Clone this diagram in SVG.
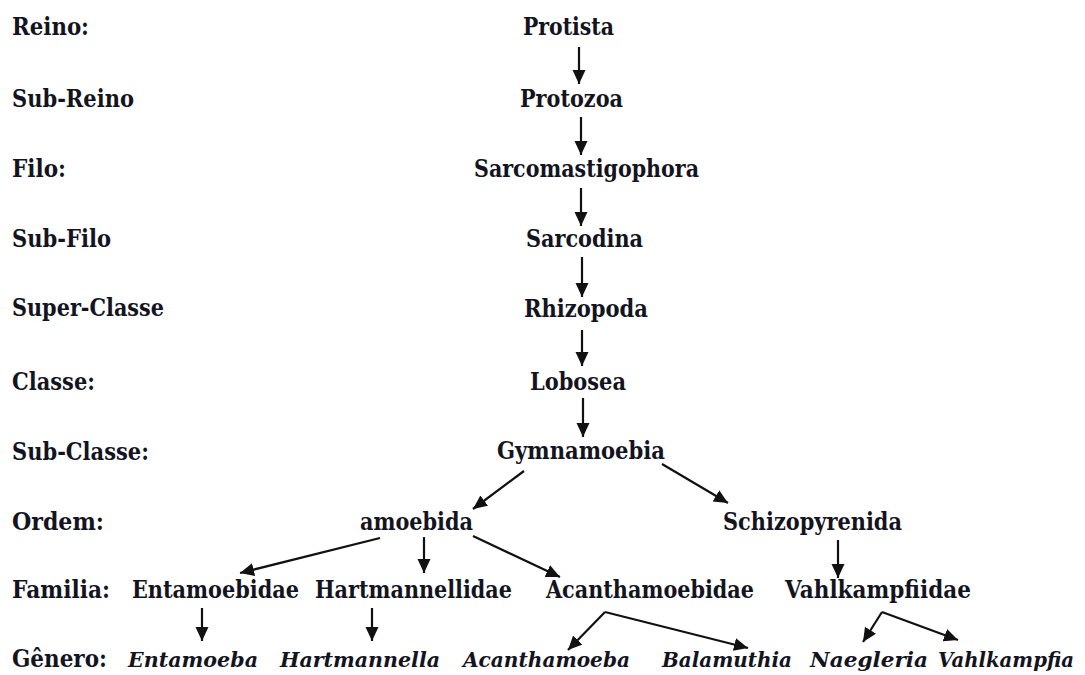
<svg xmlns="http://www.w3.org/2000/svg" width="1085" height="675" viewBox="0 0 1085 675">
<style>
text{font-family:"DejaVu Serif","Liberation Serif",serif;font-size:25px;font-weight:bold;fill:#14141f}
.it{font-style:italic;font-size:21px}
.c line{stroke:#111;stroke-width:2.2;marker-end:url(#ah)}
</style>
<defs>
<marker id="ah" markerUnits="userSpaceOnUse" markerWidth="16" markerHeight="14" refX="14" refY="6.5" orient="auto">
<path d="M0,0 L14,6.5 L0,13 Z" fill="#111"/>
</marker>
</defs>
<rect width="1085" height="675" fill="#fff"/>
<g id="ranks">
<text x="12" y="35" textLength="77" lengthAdjust="spacingAndGlyphs">Reino:</text>
<text x="12" y="107" textLength="122" lengthAdjust="spacingAndGlyphs">Sub-Reino</text>
<text x="12" y="177" textLength="54" lengthAdjust="spacingAndGlyphs">Filo:</text>
<text x="12" y="247" textLength="99" lengthAdjust="spacingAndGlyphs">Sub-Filo</text>
<text x="12" y="316" textLength="152" lengthAdjust="spacingAndGlyphs">Super-Classe</text>
<text x="12" y="390" textLength="83" lengthAdjust="spacingAndGlyphs">Classe:</text>
<text x="12" y="460" textLength="137" lengthAdjust="spacingAndGlyphs">Sub-Classe:</text>
<text x="12" y="530" textLength="92" lengthAdjust="spacingAndGlyphs">Ordem:</text>
<text x="12" y="598" textLength="98" lengthAdjust="spacingAndGlyphs">Familia:</text>
<text x="12" y="667" textLength="95" lengthAdjust="spacingAndGlyphs">Gênero:</text>
</g>
<g id="protista"><text x="523" y="35" textLength="91" lengthAdjust="spacingAndGlyphs">Protista</text></g>
<g id="protozoa"><text x="520" y="107" textLength="103" lengthAdjust="spacingAndGlyphs">Protozoa</text></g>
<g id="sarcomastigophora"><text x="474" y="177" textLength="225" lengthAdjust="spacingAndGlyphs">Sarcomastigophora</text></g>
<g id="sarcodina"><text x="526" y="247" textLength="117" lengthAdjust="spacingAndGlyphs">Sarcodina</text></g>
<g id="rhizopoda"><text x="524" y="317" textLength="124" lengthAdjust="spacingAndGlyphs">Rhizopoda</text></g>
<g id="lobosea"><text x="530" y="390" textLength="96" lengthAdjust="spacingAndGlyphs">Lobosea</text></g>
<g id="gymnamoebia"><text x="497" y="459" textLength="168" lengthAdjust="spacingAndGlyphs">Gymnamoebia</text></g>
<g id="amoebida"><text x="360" y="530" textLength="113" lengthAdjust="spacingAndGlyphs">amoebida</text></g>
<g id="schizopyrenida"><text x="723" y="530" textLength="179" lengthAdjust="spacingAndGlyphs">Schizopyrenida</text></g>
<g id="entamoebidae"><text x="132" y="598" textLength="167" lengthAdjust="spacingAndGlyphs">Entamoebidae</text></g>
<g id="hartmannellidae"><text x="315" y="598" textLength="197" lengthAdjust="spacingAndGlyphs">Hartmannellidae</text></g>
<g id="acanthamoebidae"><text x="546" y="598" textLength="208" lengthAdjust="spacingAndGlyphs">Acanthamoebidae</text></g>
<g id="vahlkampfiidae"><text x="785" y="598" textLength="186" lengthAdjust="spacingAndGlyphs">Vahlkampfiidae</text></g>
<g id="entamoeba"><text class="it" x="128" y="667" textLength="130" lengthAdjust="spacingAndGlyphs">Entamoeba</text></g>
<g id="hartmannella"><text class="it" x="280" y="667" textLength="160" lengthAdjust="spacingAndGlyphs">Hartmannella</text></g>
<g id="acanthamoeba"><text class="it" x="463" y="667" textLength="167" lengthAdjust="spacingAndGlyphs">Acanthamoeba</text></g>
<g id="balamuthia"><text class="it" x="662" y="667" textLength="130" lengthAdjust="spacingAndGlyphs">Balamuthia</text></g>
<g id="naegleria"><text class="it" x="810" y="667" textLength="118" lengthAdjust="spacingAndGlyphs">Naegleria</text></g>
<g id="vahlkampfia"><text class="it" x="938" y="667" textLength="136" lengthAdjust="spacingAndGlyphs">Vahlkampfia</text></g>
<g id="connectors" class="c">
<line x1="579" y1="47" x2="579" y2="84"/>
<line x1="581" y1="117" x2="581" y2="155"/>
<line x1="581" y1="188" x2="581" y2="226"/>
<line x1="582" y1="257" x2="582" y2="297"/>
<line x1="582" y1="330" x2="582" y2="366"/>
<line x1="583" y1="398" x2="583" y2="437"/>
<line x1="524" y1="471" x2="473" y2="509"/>
<line x1="662" y1="464" x2="728" y2="503"/>
<line x1="380" y1="538" x2="240" y2="573"/>
<line x1="424" y1="537" x2="424" y2="573"/>
<line x1="473" y1="536" x2="560" y2="577"/>
<line x1="838" y1="540" x2="838" y2="578"/>
<line x1="202" y1="608" x2="202" y2="641"/>
<line x1="372" y1="608" x2="372" y2="641"/>
<line x1="605" y1="612" x2="568" y2="650"/>
<line x1="605" y1="612" x2="748" y2="648"/>
<line x1="882" y1="612" x2="863" y2="642"/>
<line x1="882" y1="612" x2="958" y2="640"/>
</g>
</svg>
